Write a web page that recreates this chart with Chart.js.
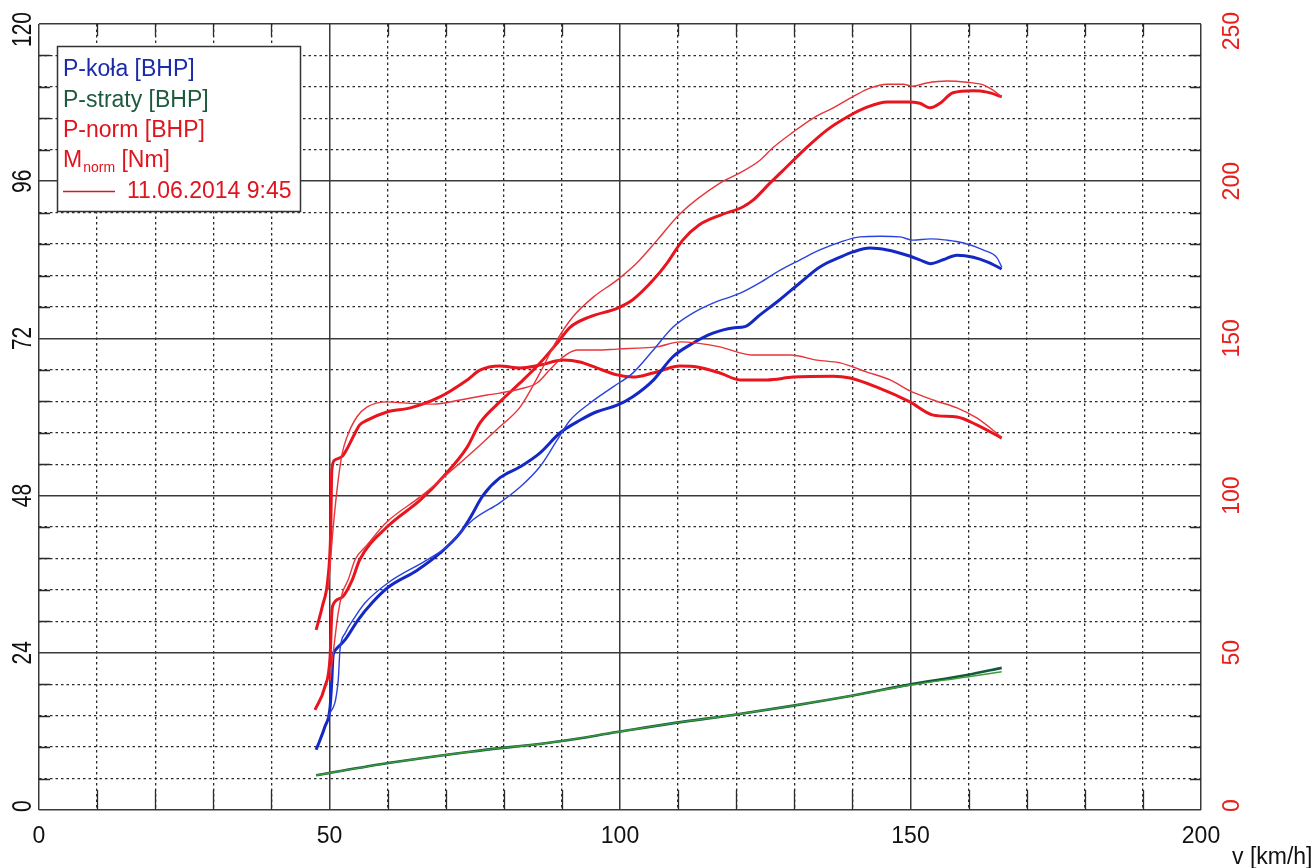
<!DOCTYPE html>
<html><head><meta charset="utf-8">
<script src="https://cdn.jsdelivr.net/npm/chart.js@4"></script>
<style>html,body{margin:0;padding:0;background:#fff;}canvas{display:block;}</style>
</head><body>
<canvas id="c" width="1316" height="868"></canvas>
<script>
// ---- tick labels / texts ----
const xTickValues = [0, 50, 100, 150, 200];
const yLeftTickValues = [0, 24, 48, 72, 96, 120];
const yRightTickValues = [0, 50, 100, 150, 200, 250];
const xAxisTitle = 'v [km/h]';
const legendTexts = ['P-koła [BHP]', 'P-straty [BHP]', 'P-norm [BHP]', 'M', 'norm', ' [Nm]', '11.06.2014 9:45'];

// ---- P-koła [BHP] (current run, thick) ----
const vKola = [47.7, 49.2, 50.1, 50.4, 50.6, 51.0, 52.7, 54.9, 57.3, 60.1, 65.1, 69.0, 72.5, 74.2, 76.4, 79.3, 82.8, 86.2, 89.7, 93.1, 96.0, 99.5, 102.2, 105.7, 109.1, 112.6, 116.0, 119.4, 121.5, 124.1, 127.5, 131.0, 134.4, 137.9, 140.1, 143.0, 146.0, 149.4, 151.6, 153.4, 155.6, 158.0, 160.8, 163.2, 165.7];
const pKola = [9.2, 12.7, 15.7, 19.8, 23.4, 24.4, 26.0, 29.0, 31.6, 34.0, 36.6, 39.2, 42.3, 44.6, 48.0, 50.7, 52.4, 54.5, 57.6, 59.5, 60.8, 61.8, 63.1, 65.6, 69.2, 71.3, 72.8, 73.6, 73.8, 75.6, 77.9, 80.5, 82.9, 84.4, 85.2, 85.8, 85.5, 84.7, 84.0, 83.4, 84.0, 84.7, 84.4, 83.7, 82.6];
// ---- P-koła [BHP] (11.06.2014 9:45, thin) ----
const vKolaRef = [49.7, 51.5, 51.8, 52.7, 54.4, 56.1, 60.1, 66.8, 70.2, 74.7, 79.3, 82.8, 86.2, 89.2, 91.4, 94.8, 98.8, 102.2, 105.7, 109.1, 112.6, 116.0, 120.7, 124.1, 127.5, 131.0, 134.4, 137.9, 141.3, 144.8, 148.2, 150.4, 153.4, 156.3, 159.0, 162.5, 164.9, 165.7];
const pKolaRef = [14.0, 19.8, 24.4, 27.0, 29.5, 31.6, 34.7, 38.2, 40.2, 44.3, 46.9, 49.3, 52.4, 56.5, 59.5, 62.1, 64.6, 66.7, 70.2, 73.7, 75.9, 77.4, 78.9, 80.5, 82.4, 84.0, 85.5, 86.7, 87.5, 87.6, 87.5, 87.0, 87.2, 87.0, 86.6, 85.5, 84.3, 82.9];

// ---- P-straty [BHP] ----
const vStraty = [47.7, 60.4, 74.2, 89.7, 99.5, 109.5, 119.4, 129.6, 139.6, 149.6, 159.7, 165.7];
const pStraty = [5.3, 7.2, 8.9, 10.5, 11.9, 13.3, 14.5, 15.9, 17.4, 19.1, 20.6, 21.7];
const vStratyRef = [47.7, 60.4, 74.2, 89.7, 99.5, 109.5, 119.4, 129.6, 139.6, 149.6, 159.7, 165.7];
const pStratyRef = [5.3, 7.2, 8.9, 10.5, 11.9, 13.3, 14.5, 15.9, 17.4, 19.0, 20.3, 21.1];

// ---- P-norm [BHP] ----
const vNorm = [47.5, 49.2, 50.1, 50.4, 50.6, 52.2, 53.9, 55.2, 59.9, 65.6, 69.5, 73.7, 75.9, 79.3, 82.8, 86.2, 89.2, 91.4, 94.8, 99.5, 102.2, 105.7, 108.1, 110.8, 113.6, 117.2, 121.2, 122.9, 125.8, 128.7, 132.2, 135.6, 139.1, 142.5, 146.0, 149.4, 151.6, 153.4, 155.1, 157.3, 160.8, 163.2, 165.7];
const pNorm = [15.3, 18.8, 23.4, 30.1, 31.3, 32.5, 35.1, 38.2, 43.2, 47.3, 50.8, 55.4, 59.1, 62.3, 65.2, 68.2, 71.3, 73.7, 75.3, 76.6, 77.9, 80.9, 83.5, 87.0, 89.3, 90.8, 92.1, 93.1, 95.7, 98.2, 101.2, 103.8, 105.8, 107.3, 108.1, 108.1, 107.9, 107.2, 107.9, 109.5, 109.8, 109.6, 108.9];
const vNormRef = [50.1, 51.5, 52.2, 53.2, 54.4, 56.5, 59.9, 65.6, 69.5, 75.9, 79.3, 82.8, 86.2, 89.2, 91.9, 95.4, 99.5, 102.9, 106.4, 110.3, 117.2, 120.7, 124.1, 126.3, 129.8, 133.2, 136.7, 140.1, 143.0, 146.0, 148.7, 150.4, 152.8, 156.3, 159.7, 162.5, 164.2, 165.7];
const pNormRef = [19.8, 30.1, 33.1, 35.1, 38.2, 40.5, 44.0, 47.8, 50.7, 55.7, 58.5, 61.5, 66.7, 71.8, 75.3, 78.3, 80.9, 83.5, 87.0, 91.0, 95.7, 97.3, 99.2, 101.1, 103.5, 105.6, 107.2, 108.9, 110.2, 110.8, 110.8, 110.5, 111.0, 111.3, 111.1, 110.7, 109.9, 108.9];

// ---- M_norm [Nm] (right axis) ----
const vTorque = [47.7, 48.8, 49.7, 50.2, 50.4, 50.9, 52.2, 53.2, 54.4, 55.2, 56.5, 59.9, 63.9, 69.0, 73.7, 75.9, 79.3, 82.8, 86.2, 90.2, 93.1, 96.0, 99.5, 102.2, 105.7, 110.3, 113.3, 117.2, 120.7, 125.3, 129.8, 136.7, 139.6, 144.2, 149.9, 153.9, 158.0, 161.4, 165.7];
const mNorm = [57.3, 65.0, 73.2, 88.0, 108.0, 111.3, 112.5, 115.5, 119.9, 122.5, 124.0, 126.6, 127.9, 131.4, 136.8, 139.9, 141.2, 140.6, 141.5, 143.1, 142.5, 140.6, 138.4, 137.7, 139.0, 141.2, 140.9, 139.0, 136.8, 136.8, 137.7, 138.0, 137.4, 134.5, 129.8, 125.6, 125.0, 122.5, 118.3];
const vTorqueRef = [49.8, 50.6, 51.5, 52.2, 53.0, 54.7, 56.5, 59.9, 63.3, 67.8, 72.5, 77.1, 79.3, 82.8, 85.7, 87.9, 90.2, 92.6, 96.0, 99.5, 102.9, 106.4, 110.3, 113.3, 117.2, 120.7, 122.9, 129.3, 133.9, 137.9, 142.5, 146.5, 149.9, 153.9, 158.0, 161.4, 165.7];
const mNormRef = [70.0, 89.1, 105.0, 113.5, 118.6, 125.0, 128.2, 129.8, 129.4, 129.1, 130.4, 132.0, 132.6, 133.9, 135.8, 140.0, 144.1, 146.3, 146.3, 146.6, 146.9, 147.3, 148.9, 148.5, 147.3, 145.4, 144.7, 144.7, 143.1, 142.2, 139.3, 136.8, 133.3, 130.4, 127.9, 124.7, 118.6];

const FONT = "'Liberation Sans', Arial, sans-serif";
const BLUE = '#1428c4', BLUE_T = '#2a42e0';
const GREEN = '#125a3c', GREEN_T = '#3f9a3a';
const RED = '#e8141e', RED_T = '#e8343a';
const GRID_MAJOR = '#3a3a3a', GRID_MINOR = '#2a2a2a';

const zip = (xs, ys) => xs.map((x, i) => ({x: x, y: ys[i]}));

function line(data, color, width, axis) {
  return {data: data, borderColor: color, backgroundColor: color, borderWidth: width,
    pointRadius: 0, fill: false, cubicInterpolationMode: 'monotone', yAxisID: axis, xAxisID: 'x'};
}

const datasets = [
  line(zip(vStratyRef, pStratyRef), GREEN_T, 1.4, 'y'),
  line(zip(vStraty, pStraty), GREEN, 2.6, 'y'),
  line(zip(vKolaRef, pKolaRef), BLUE_T, 1.4, 'y'),
  line(zip(vNormRef, pNormRef), RED_T, 1.4, 'y'),
  line(zip(vTorqueRef, mNormRef), RED_T, 1.4, 'y2'),
  line(zip(vKola, pKola), BLUE, 3, 'y'),
  line(zip(vNorm, pNorm), RED, 3, 'y'),
  line(zip(vTorque, mNorm), RED, 3, 'y2')
];

const decorPlugin = {
  id: 'decor',
  beforeDatasetsDraw(chart) {
    const ctx = chart.ctx, a = chart.chartArea;
    const xs = chart.scales.x, yr = chart.scales.y2;
    ctx.save();
    ctx.strokeStyle = GRID_MINOR; ctx.lineWidth = 1.3;
    ctx.beginPath();
    for (let v = 10; v < 200; v += 10) {
      if (v % 50 === 0) continue;
      const px = Math.round(xs.getPixelForValue(v)) + 0.5;
      ctx.moveTo(px, a.top); ctx.lineTo(px, a.top + 12);
      ctx.moveTo(px, a.bottom - 20); ctx.lineTo(px, a.bottom);
    }
    for (let m = 10; m < 250; m += 10) {
      if (m % 50 === 0) continue;
      const py = Math.round(yr.getPixelForValue(m)) + 0.5;
      ctx.moveTo(a.left, py); ctx.lineTo(a.left + 11, py);
      ctx.moveTo(a.right - 11, py); ctx.lineTo(a.right, py);
    }
    ctx.stroke();
    ctx.restore();
  },
  afterDraw(chart) {
    const ctx = chart.ctx;
    const yl = chart.scales.y, yr = chart.scales.y2;
    ctx.save();
    // rotated y tick labels
    const drawRot = (text, cx, cy, font, color, across) => {
      ctx.font = font;
      const half = ctx.measureText(text).width / 2;
      cy = Math.max(cy, 12 + half);
      cy = Math.min(cy, 812 - half);
      ctx.save();
      ctx.translate(cx, cy);
      ctx.scale(across, 1);
      ctx.rotate(-Math.PI / 2);
      ctx.fillStyle = color;
      ctx.textAlign = 'center';
      ctx.textBaseline = 'middle';
      ctx.fillText(text, 0, 0);
      ctx.restore();
    };
    yLeftTickValues.forEach(v => drawRot(String(v), 23, yl.getPixelForValue(v), '21px ' + FONT, '#111', 1.3));
    yRightTickValues.forEach(v => drawRot(String(v), 1232, yr.getPixelForValue(v), '23px ' + FONT, '#e8201c', 1.05));
    // x axis title
    ctx.font = '23px ' + FONT;
    ctx.fillStyle = '#111';
    ctx.textAlign = 'left';
    ctx.textBaseline = 'alphabetic';
    ctx.fillText(xAxisTitle, 1232, 864);
    // legend box
    ctx.fillStyle = '#fff';
    ctx.fillRect(57, 46, 244, 166);
    ctx.strokeStyle = '#333';
    ctx.lineWidth = 1.5;
    ctx.strokeRect(57.5, 46.5, 243, 165);
    ctx.font = '23px ' + FONT;
    ctx.fillStyle = '#1a2aa8'; ctx.fillText(legendTexts[0], 63, 76);
    ctx.fillStyle = '#1d5a3d'; ctx.fillText(legendTexts[1], 63, 107);
    ctx.fillStyle = '#e0141e'; ctx.fillText(legendTexts[2], 63, 137);
    ctx.fillText(legendTexts[3], 63, 167);
    let x = 63 + ctx.measureText(legendTexts[3]).width + 1;
    ctx.font = '14px ' + FONT;
    ctx.fillText(legendTexts[4], x, 172);
    x += ctx.measureText(legendTexts[4]).width;
    ctx.font = '23px ' + FONT;
    ctx.fillText(legendTexts[5], x, 167);
    ctx.strokeStyle = '#e0141e'; ctx.lineWidth = 1.3;
    ctx.beginPath(); ctx.moveTo(63, 191.5); ctx.lineTo(115, 191.5); ctx.stroke();
    ctx.fillText(legendTexts[6], 127, 198);
    ctx.restore();
  }
};

new Chart(document.getElementById('c'), {
  type: 'line',
  data: {datasets: datasets},
  plugins: [decorPlugin],
  options: {
    responsive: false,
    animation: false,
    devicePixelRatio: 1,
    layout: {padding: {top: 24, left: 0, right: 0, bottom: 0}},
    plugins: {legend: {display: false}, tooltip: {enabled: false}},
    scales: {
      x: {
        type: 'linear', position: 'bottom', min: 0, max: 200,
        afterBuildTicks: s => { s.ticks = xTickValues.map(v => ({value: v})); },
        ticks: {font: {size: 23, family: FONT}, color: '#111', padding: 13, autoSkip: false, maxRotation: 0},
        grid: {color: GRID_MAJOR, lineWidth: 1.5, drawTicks: false},
        border: {display: false},
        afterFit: s => { s.height = 58; }
      },
      xm: {
        type: 'linear', position: 'bottom', min: 0, max: 200,
        ticks: {display: false, stepSize: 10},
        grid: {color: c => (c.tick && Math.round(c.tick.value) % 50 !== 0) ? GRID_MINOR : 'rgba(0,0,0,0)', lineWidth: 1.3, drawTicks: false},
        border: {display: false, dash: [2.5, 3]},
        afterFit: s => { s.height = 0; }
      },
      y: {
        type: 'linear', position: 'left', min: 0, max: 120,
        afterBuildTicks: s => { s.ticks = yLeftTickValues.map(v => ({value: v})); },
        ticks: {display: false},
        grid: {color: GRID_MAJOR, lineWidth: 1.5, drawTicks: false},
        border: {display: false},
        afterFit: s => { s.width = 39; }
      },
      y2: {
        type: 'linear', position: 'right', min: 0, max: 250,
        ticks: {display: false, stepSize: 10},
        grid: {color: c => (c.tick && Math.round(c.tick.value) % 50 !== 0) ? GRID_MINOR : 'rgba(0,0,0,0)', lineWidth: 1.3, drawTicks: false},
        border: {display: false, dash: [2.5, 3]},
        afterFit: s => { s.width = 115; }
      }
    }
  }
});
</script>
</body></html>
